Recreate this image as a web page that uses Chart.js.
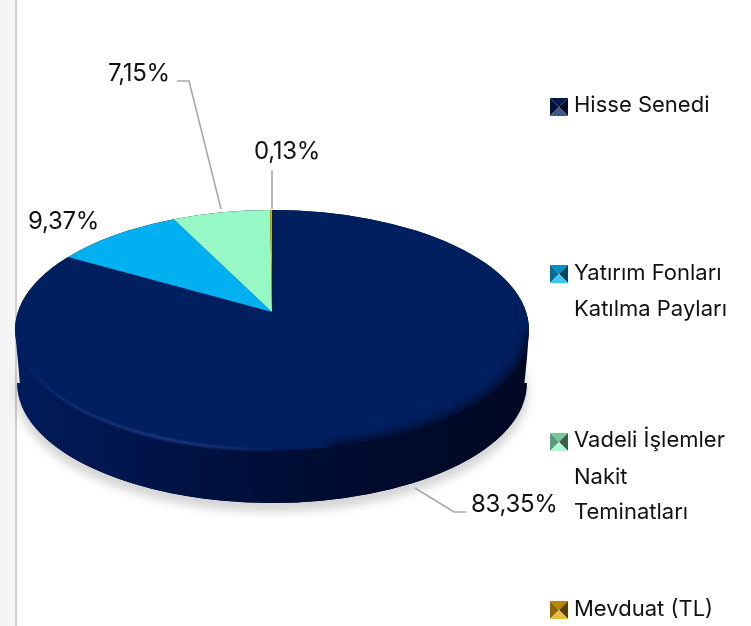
<!DOCTYPE html>
<html><head><meta charset="utf-8">
<style>
html,body{margin:0;padding:0;background:#fff;overflow:hidden}
#strip{position:absolute;left:0;top:0;width:15px;height:626px;background:#f5f5f5;border-right:2px solid #cfcfcf}
#wrap{position:absolute;left:0;top:0;width:751px;height:626px}
</style>
<script src="https://cdn.jsdelivr.net/npm/chart.js@4"></script>
</head><body>
<div id="strip"></div>
<div id="wrap"><canvas id="c" width="751" height="626"></canvas></div>
<script>
const categories = ['Hisse Senedi','Yatırım Fonları Katılma Payları','Vadeli İşlemler Nakit Teminatları','Mevduat (TL)'];
const values = [83.35, 9.37, 7.15, 0.13];
const colors = ['#001f5f','#00b0f0','#96f8c4','#e5a800'];
const legendLines = [['Hisse Senedi'],['Yatırım Fonları','Katılma Payları'],['Vadeli İşlemler','Nakit','Teminatları'],['Mevduat (TL)']];
const legendY = [98,265,433,601];
const legendBase = [[112],[280,316],[447,484,519],[616]];
const labelPos = [[471,512],[28,229],[108,81],[254,159]];
const leaders = [[[415,488],[454,512],[466,512]],[],[[177,81],[189,81],[221,209]],[[272,170],[272,209]]];
const FONT = 'Inter, sans-serif';
const APEX = {x:272,y:312}, FACE = {x:272,y:330,rx:257,ry:120}, DEPTH = 53, TILT = 0.465;

const fmt = v => v.toFixed(2).replace('.',',') + '%';
function shade(hex,f){
  const n=parseInt(hex.slice(1),16);let r=n>>16,g=(n>>8)&255,b=n&255;
  const m=c=>Math.round(f<=1?c*f:c+(255-c)*(f-1));
  return `rgb(${m(r)},${m(g)},${m(b)})`;
}
function tri(ctx,pts,fill){ctx.beginPath();pts.forEach((p,i)=>i?ctx.lineTo(p[0],p[1]):ctx.moveTo(p[0],p[1]));ctx.closePath();ctx.fillStyle=fill;ctx.fill();}

const pie3d = {
  id:'pie3d',
  beforeDatasetsDraw(chart){
    const ctx=chart.ctx,F=FACE;
    // soft drop shadow
    ctx.save();
    ctx.filter='blur(4px)';
    ctx.fillStyle='rgba(0,0,0,0.16)';
    ctx.beginPath();ctx.ellipse(F.x,F.y+DEPTH+9,F.rx-1,F.ry,0,0,Math.PI*2);ctx.fill();
    ctx.restore();
    // side wall
    const g=ctx.createLinearGradient(F.x-F.rx,0,F.x+F.rx,0);
    g.addColorStop(0,'#001c5c');g.addColorStop(0.25,'#00144a');g.addColorStop(0.55,'#000d34');g.addColorStop(1,'#000822');
    ctx.save();
    ctx.fillStyle=g;
    ctx.beginPath();
    ctx.ellipse(F.x,F.y,F.rx,F.ry,0,Math.PI,0,false);
    ctx.lineTo(F.x+F.rx-2,F.y+DEPTH-25);
    ctx.ellipse(F.x,F.y+DEPTH,F.rx-2,F.ry,0,0.2,Math.PI-0.2,false);
    ctx.closePath();ctx.fill();
    ctx.beginPath();ctx.ellipse(F.x,F.y+DEPTH,F.rx-2,F.ry,0,0,Math.PI);ctx.fill();
    ctx.fillRect(F.x-F.rx,F.y,2*F.rx,0);
    ctx.restore();
    // top face: true slices through a tilt, trimmed to the rim
    ctx.save();
    ctx.beginPath();ctx.ellipse(F.x,F.y,F.rx,F.ry,0,0,Math.PI*2);ctx.clip();
    ctx.translate(APEX.x,APEX.y);ctx.scale(1,TILT);ctx.translate(-APEX.x,-APEX.y);
  },
  afterDatasetsDraw(chart){
    const ctx=chart.ctx,F=FACE;
    ctx.restore();
    // dark soft rim on the right, bright rim on the left
    ctx.save();
    ctx.beginPath();ctx.ellipse(F.x,F.y,F.rx,F.ry,0,0,Math.PI*2);ctx.clip();
    ctx.filter='blur(4px)';
    ctx.strokeStyle='rgba(0,6,28,0.9)';ctx.lineWidth=7;
    ctx.beginPath();ctx.ellipse(F.x,F.y,F.rx,F.ry,0,0.02,1.35);ctx.stroke();
    ctx.restore();
    ctx.save();
    ctx.filter='blur(1px)';
    const h=ctx.createLinearGradient(F.x-F.rx,0,F.x+40,0);
    h.addColorStop(0,'rgba(30,60,140,0)');h.addColorStop(0.2,'rgba(35,65,140,0.7)');h.addColorStop(0.55,'rgba(45,75,150,0.9)');h.addColorStop(1,'rgba(45,75,150,0)');
    ctx.strokeStyle=h;ctx.lineWidth=2;
    ctx.beginPath();ctx.ellipse(F.x,F.y,F.rx-1,F.ry,0,Math.PI*0.5,Math.PI*0.97);ctx.stroke();
    ctx.restore();
    // leaders
    ctx.save();
    ctx.strokeStyle='#a9a9a9';ctx.lineWidth=1.6;
    leaders.forEach(l=>{if(!l.length)return;ctx.beginPath();l.forEach((p,i)=>i?ctx.lineTo(p[0],p[1]):ctx.moveTo(p[0],p[1]));ctx.stroke();});
    // value labels
    ctx.fillStyle='#111';ctx.font='24px '+FONT;ctx.textBaseline='alphabetic';ctx.textAlign='left';
    ctx.letterSpacing='-0.3px';
    values.forEach((v,i)=>ctx.fillText(fmt(v),labelPos[i][0],labelPos[i][1]));
    // legend
    ctx.font='22px '+FONT;ctx.letterSpacing='0px';
    categories.forEach((c,i)=>{
      const x=550,y=legendY[i],s=18,m=[x+s/2,y+s/2],col=colors[i];
      tri(ctx,[[x,y],[x+s,y],m],shade(col,0.8));
      tri(ctx,[[x,y],[x,y+s],m],shade(col,0.62));
      tri(ctx,[[x+s,y],[x+s,y+s],m],shade(col,0.38));
      tri(ctx,[[x,y+s],[x+s,y+s],m],shade(col,1.25));
      ctx.fillStyle='#111';
      legendLines[i].forEach((t,j)=>ctx.fillText(t,574,legendBase[i][j]));
    });
    ctx.restore();
  }
};

new Chart(document.getElementById('c'),{
  type:'pie',
  data:{labels:categories,datasets:[{data:values,backgroundColor:colors,borderWidth:0,clip:false}]},
  options:{
    responsive:false,animation:false,radius:310,
    layout:{padding:{left:15,right:222,top:55,bottom:57}},
    plugins:{legend:{display:false},tooltip:{enabled:false}}
  },
  plugins:[pie3d]
});
</script>
</body></html>
